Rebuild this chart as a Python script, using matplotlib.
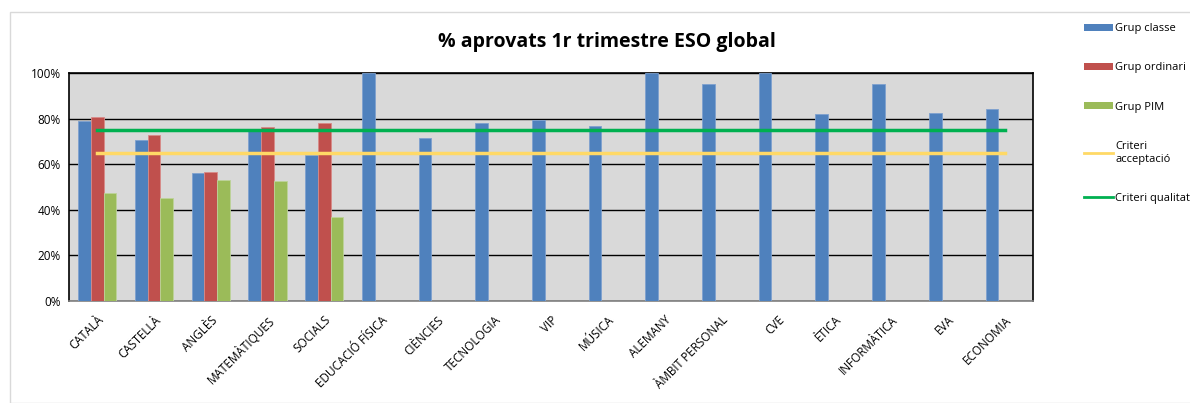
import matplotlib
matplotlib.use("Agg")
import matplotlib.pyplot as plt
import numpy as np
from matplotlib.patches import Patch, Rectangle
from matplotlib.lines import Line2D

categories = ["CATALÀ", "CASTELLÀ", "ANGLÈS", "MATEMÀTIQUES", "SOCIALS", "EDUCACIÓ FÍSICA",
              "CIÈNCIES", "TECNOLOGIA", "VIP", "MÚSICA", "ALEMANY", "ÀMBIT PERSONAL", "CVE",
              "ÈTICA", "INFORMÀTICA", "EVA", "ECONOMIA"]
grup_classe = [79, 70.5, 56, 75.5, 64, 100, 71.3, 78.2, 79.2, 76.6, 100, 95.3, 100, 81.9, 95.2, 82.5, 84.3]
grup_ordinari = [80.6, 72.8, 56.6, 76.3, 78.1]
grup_pim = [47.4, 45.2, 53.1, 52.8, 36.8]
criteri_acceptacio = [65] * len(categories)
criteri_qualitat = [75] * len(categories)
yticks = [0, 20, 40, 60, 80, 100]
ytick_labels = ["0%", "20%", "40%", "60%", "80%", "100%"]

plt.rcParams['font.family'] = ['Open Sans', 'DejaVu Sans']

fig = plt.figure(figsize=(11.9, 4.03), dpi=100)
fig.patches.append(Rectangle((10/1190, 0), 1.2, 1 - 12/403, transform=fig.transFigure,
                             fill=False, edgecolor='#D9D9D9', linewidth=1))
ax = fig.add_axes([69/1190, 1 - 301/403, (1033 - 69)/1190, (301 - 73)/403])
ax.set_facecolor('#D9D9D9')

x = np.arange(len(categories))
w = 0.224
blue = '#4F81BD'; red = '#C0504D'; green = '#9BBB59'
ax.bar(x - w, grup_classe, width=w, color=blue, edgecolor='#7EA1CF', linewidth=0.6, zorder=3)
xo = np.arange(len(grup_ordinari))
ax.bar(xo, grup_ordinari, width=w, color=red, edgecolor='#D88A88', linewidth=0.6, zorder=3)
ax.bar(xo + w, grup_pim, width=w, color=green, edgecolor='#BDD39A', linewidth=0.6, zorder=3)
ax.plot(x, criteri_acceptacio, color='#FFD966', linewidth=2.5, zorder=4)
ax.plot(x, criteri_qualitat, color='#00B050', linewidth=2.5, zorder=4)

ax.set_xlim(-0.5, len(categories) - 0.5)
ax.set_ylim(0, 100)
ax.set_yticks(yticks)
ax.set_yticklabels(ytick_labels, fontsize=8.5)
ax.yaxis.grid(True, color='black', linewidth=1, zorder=1)
ax.set_axisbelow(True)
ax.set_xticks(x)
ax.set_xticklabels(categories, rotation=45, ha='right', rotation_mode='anchor', fontsize=8.5)
ax.tick_params(axis='y', length=0, pad=6)
ax.tick_params(axis='x', length=0, pad=9)
for s in ax.spines.values():
    s.set_color('black'); s.set_linewidth(1.2)
ax.spines['bottom'].set_color('#808080')

fig.text(607/1190, 1 - 42/403, "% aprovats 1r trimestre ESO global", ha='center', va='center',
         fontsize=14, fontweight='bold')

handles = [Patch(facecolor=blue), Patch(facecolor=red), Patch(facecolor=green),
           Line2D([0], [0], color='#FFD966', linewidth=2), Line2D([0], [0], color='#00B050', linewidth=2)]
labels = ["Grup classe", "Grup ordinari", "Grup PIM", "Criteri\nacceptació", "Criteri qualitat"]
fig.legend(handles, labels, loc='upper left', bbox_to_anchor=(1074/1190, 1 - 13/403), frameon=False,
           fontsize=8, labelspacing=2.55, handlelength=2.6, handleheight=0.6, handletextpad=0.2)

fig.savefig("out.png", dpi=100)
